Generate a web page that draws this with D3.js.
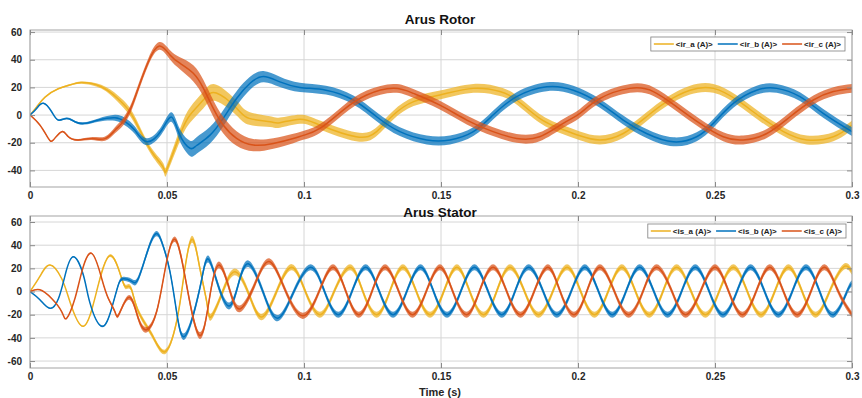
<!DOCTYPE html>
<html>
<head>
<meta charset="utf-8">
<script src="https://cdn.jsdelivr.net/npm/d3@7/dist/d3.min.js"></script>
<style>
body { margin: 0; background: #fff; }
svg text { font-family: "Liberation Sans", Arial, Helvetica, sans-serif; }
</style>
</head>
<body>
<svg id="chart" width="862" height="398"></svg>
<script>
// shared axis ticks
var timeTicks = [0, 0.05, 0.1, 0.15, 0.2, 0.25, 0.3];
var rotorTicks = [-40, -20, 0, 20, 40, 60];
var statorTicks = [-60, -40, -20, 0, 20, 40, 60];
var rotorLabels = ["<ir_a (A)>", "<ir_b (A)>", "<ir_c (A)>"];
var statorLabels = ["<is_a (A)>", "<is_b (A)>", "<is_c (A)>"];
var phaseColors = ["#EDB120", "#0072BD", "#D95319"];

// rotor currents, [time (s), current (A)]
var rotorA = [[0,0],[0.0025,6],[0.0055,13],[0.0103,19],[0.015,22],[0.0189,23.5],[0.026,20.5],[0.032,12],[0.036,3.6],[0.0395,-8.5],[0.0444,-26.5],[0.0487,-38],[0.050,-39],[0.0547,-14.5],[0.0584,0],[0.0633,11],[0.068,16],[0.0754,5],[0.080,-2.4],[0.0876,-4.8],[0.0912,-5.5],[0.0985,-3],[0.1058,-7.2],[0.119,-15.7],[0.1265,-12],[0.1326,0],[0.140,9.7],[0.1496,14.5],[0.1618,19.3],[0.1715,17],[0.1776,10.9],[0.186,-2.4],[0.1934,-9.7],[0.2007,-15],[0.208,-18],[0.2165,-13.3],[0.225,-1.2],[0.2324,9.7],[0.2409,18],[0.2494,19.3],[0.258,10.9],[0.2664,-1.2],[0.275,-12],[0.2835,-18],[0.2932,-15.7],[0.3,-7.2]];
var rotorB = [[0,0],[0.0025,5],[0.0049,8.5],[0.0079,2.4],[0.0103,-3.6],[0.0134,-2.4],[0.0164,-4.8],[0.020,-6],[0.025,-3.6],[0.031,-2],[0.0347,-4.8],[0.0383,-11],[0.0426,-19.3],[0.048,-11],[0.0517,-1.5],[0.0547,-14.5],[0.0584,-24],[0.0608,-22],[0.0657,-14.5],[0.0705,-2.4],[0.0754,12],[0.0803,23],[0.0852,27.8],[0.0912,24],[0.0985,20],[0.108,18],[0.118,10.9],[0.1265,-1.2],[0.135,-12],[0.1448,-18],[0.1533,-18],[0.1618,-12],[0.169,0],[0.1776,13.3],[0.1886,20.5],[0.1983,18],[0.208,8.5],[0.2165,-3.6],[0.225,-13.3],[0.2348,-19.3],[0.2433,-15.7],[0.2494,-6],[0.2567,8.5],[0.2652,18],[0.2725,19.3],[0.281,13.3],[0.2895,1.2],[0.3,-12]];
var rotorC = [[0,0],[0.0036,-7.2],[0.0067,-16.9],[0.0085,-18],[0.0116,-12],[0.014,-15.7],[0.0176,-18],[0.0225,-17],[0.0274,-17],[0.031,-11],[0.0335,-6],[0.0365,3.6],[0.0395,19.3],[0.0432,38.6],[0.0472,50],[0.0511,43.5],[0.0547,37.5],[0.0596,30.2],[0.0633,19.3],[0.0669,4.8],[0.0705,-7.2],[0.0754,-16.9],[0.0815,-21.7],[0.0888,-20.5],[0.0961,-16.9],[0.1,-14.5],[0.1058,-9.7],[0.1143,3.6],[0.1229,14.5],[0.1326,19.3],[0.1399,15.7],[0.1496,7.2],[0.1594,-3.6],[0.169,-12],[0.1776,-16.9],[0.186,-15.7],[0.1946,-6],[0.2007,1.2],[0.208,12],[0.219,19.3],[0.2275,17],[0.236,6],[0.2445,-6],[0.253,-15.7],[0.2603,-18],[0.2689,-13.3],[0.2774,-1.2],[0.2859,10.9],[0.2932,17],[0.3,19.3]];

// stator currents
var statorA = [[0,0],[0.0036,13],[0.0073,23],[0.0116,11],[0.0146,-9],[0.0195,-30],[0.0243,0],[0.0292,31],[0.0335,11],[0.0353,4],[0.037,2],[0.0395,-17],[0.0444,-37],[0.0493,-52],[0.0535,-26],[0.056,11],[0.059,45],[0.062,20],[0.0645,-9],[0.066,-22],[0.070,-2],[0.0748,17],[0.080,-3],[0.0846,-22],[0.090,0],[0.0955,21],[0.1005,0],[0.1058,-20],[0.111,0],[0.1168,21],[0.1215,0],[0.1265,-20],[0.1313,0],[0.1361,21],[0.141,0],[0.146,-20],[0.151,0],[0.1558,21],[0.1605,0],[0.1655,-20],[0.1703,0],[0.1752,21],[0.1805,0],[0.1856,-20],[0.1908,0],[0.196,21],[0.201,0],[0.206,-20],[0.211,0],[0.216,21],[0.221,0],[0.226,-20],[0.231,0],[0.236,21],[0.2413,0],[0.2465,-20],[0.2515,0],[0.2567,21],[0.2618,0],[0.2668,-20],[0.2718,0],[0.2768,21],[0.2818,0],[0.2868,-20],[0.2918,0],[0.2968,21],[0.3,17]];
var statorB = [[0,0],[0.0036,-7],[0.0073,-14.5],[0.0104,-6],[0.0128,14],[0.0158,30],[0.0195,14],[0.0219,-10],[0.0262,-30],[0.0298,-14.5],[0.0322,5.5],[0.034,11],[0.037,9],[0.0395,11],[0.0432,37],[0.0462,50],[0.0485,40],[0.0511,17],[0.0535,-17.5],[0.056,-39],[0.0596,-20],[0.0627,11],[0.0651,28],[0.0687,5],[0.0727,-12.5],[0.076,6],[0.0797,24],[0.085,0],[0.0903,-23],[0.0963,0],[0.1025,21],[0.1075,0],[0.1125,-20],[0.1175,0],[0.1225,21],[0.1275,0],[0.1325,-20],[0.1375,0],[0.1425,21],[0.1473,0],[0.1522,-20],[0.1572,0],[0.1622,21],[0.1672,0],[0.1722,-20],[0.177,0],[0.182,21],[0.1873,0],[0.1923,-20],[0.1975,0],[0.2025,21],[0.2075,0],[0.2125,-20],[0.2175,0],[0.2225,21],[0.2277,0],[0.2327,-20],[0.2378,0],[0.2428,21],[0.2479,0],[0.2529,-20],[0.258,0],[0.263,21],[0.2681,0],[0.2731,-20],[0.2782,0],[0.2832,21],[0.2882,0],[0.2932,-20],[0.2982,0],[0.3,7]];
var statorC = [[0,0],[0.0036,1.5],[0.0079,-6],[0.0116,-17.5],[0.0134,-23],[0.0164,-6],[0.0189,17],[0.0225,33],[0.0262,11],[0.0286,-6],[0.031,-17.5],[0.0325,-19.5],[0.0362,-5],[0.0395,-23],[0.0426,-33],[0.0462,-17.5],[0.0493,19],[0.053,45],[0.0572,5],[0.062,-38],[0.0657,-3],[0.069,23],[0.0728,2],[0.0766,-15],[0.082,6],[0.0873,26],[0.093,2],[0.0995,-21],[0.1055,0],[0.1106,21],[0.1153,0],[0.12,-20],[0.1248,0],[0.1296,21],[0.1346,0],[0.1396,-20],[0.1446,0],[0.1496,21],[0.1543,0],[0.1593,-20],[0.164,0],[0.169,21],[0.174,0],[0.179,-20],[0.184,0],[0.189,21],[0.1935,0],[0.1985,-20],[0.2032,0],[0.208,21],[0.2133,0],[0.2185,-20],[0.2237,0],[0.2287,21],[0.2343,0],[0.2393,-20],[0.2447,0],[0.25,21],[0.255,0],[0.26,-20],[0.265,0],[0.27,21],[0.275,0],[0.28,-20],[0.285,0],[0.29,21],[0.295,0],[0.3,-20]];

// half-width of the switching ripple band, [time (s), A]
var rotorRipple = [[0,0.2],[0.015,0.6],[0.025,1.2],[0.035,2.8],[0.045,2.5],[0.052,3.5],[0.06,6],[0.07,6],[0.085,4],[0.1,3.2],[0.3,3.2]];
var statorRipple = [[0,0.2],[0.025,0.6],[0.032,1.5],[0.04,2.5],[0.05,2],[0.058,3],[0.07,3],[0.1,2.6],[0.3,2.6]];

var svg = d3.select("#chart");

function drawPanel(cfg) {
    var x = d3.scaleLinear().domain([0, 0.3]).range([cfg.left, cfg.right]);
    var y = d3.scaleLinear().domain(cfg.yDomain).range([cfg.bottom, cfg.top]);
    var w = cfg.right - cfg.left, h = cfg.bottom - cfg.top;
    var g = svg.append("g");

    g.append("rect")
        .attr("x", cfg.left).attr("y", cfg.top)
        .attr("width", w).attr("height", h)
        .attr("fill", "#fff");

    // grid
    g.append("g").selectAll("line").data(timeTicks).enter().append("line")
        .attr("x1", function(d) { return x(d); }).attr("x2", function(d) { return x(d); })
        .attr("y1", cfg.top).attr("y2", cfg.bottom)
        .attr("stroke", "#d6d6d6").attr("stroke-width", 1);
    g.append("g").selectAll("line").data(cfg.yTicks).enter().append("line")
        .attr("x1", cfg.left).attr("x2", cfg.right)
        .attr("y1", function(d) { return y(d); }).attr("y2", function(d) { return y(d); })
        .attr("stroke", "#d6d6d6").attr("stroke-width", 1);

    var clipId = "clip-" + cfg.id;
    g.append("clipPath").attr("id", clipId).append("rect")
        .attr("x", cfg.left).attr("y", cfg.top).attr("width", w).attr("height", h);

    var ripple = d3.scaleLinear()
        .domain(cfg.ripple.map(function(d) { return d[0]; }))
        .range(cfg.ripple.map(function(d) { return d[1]; }))
        .clamp(true);

    var band = d3.area()
        .x(function(d) { return x(d[0]); })
        .y0(function(d) { return y(d[1] - ripple(d[0])); })
        .y1(function(d) { return y(d[1] + ripple(d[0])); })
        .curve(d3.curveNatural);
    var line = d3.line()
        .x(function(d) { return x(d[0]); })
        .y(function(d) { return y(d[1]); })
        .curve(d3.curveNatural);

    var plot = g.append("g").attr("clip-path", "url(#" + clipId + ")");
    cfg.series.forEach(function(s, i) {
        plot.append("path").attr("d", band(s))
            .attr("fill", phaseColors[i]).attr("fill-opacity", 0.72);
        plot.append("path").attr("d", line(s))
            .attr("fill", "none").attr("stroke", phaseColors[i]).attr("stroke-width", 1.5);
    });

    // box + inward ticks on all four sides
    g.append("rect")
        .attr("x", cfg.left).attr("y", cfg.top)
        .attr("width", w).attr("height", h)
        .attr("fill", "none").attr("stroke", "#a3a3a3");

    var axB = g.append("g").attr("transform", "translate(0," + cfg.bottom + ")")
        .call(d3.axisBottom(x).tickValues(timeTicks).tickSize(-5).tickPadding(5).tickFormat(String));
    var axT = g.append("g").attr("transform", "translate(0," + cfg.top + ")")
        .call(d3.axisTop(x).tickValues(timeTicks).tickSize(-5).tickFormat(""));
    var axL = g.append("g").attr("transform", "translate(" + cfg.left + ",0)")
        .call(d3.axisLeft(y).tickValues(cfg.yTicks).tickSize(-5).tickPadding(8).tickFormat(String));
    var axR = g.append("g").attr("transform", "translate(" + cfg.right + ",0)")
        .call(d3.axisRight(y).tickValues(cfg.yTicks).tickSize(-5).tickFormat(""));
    [axB, axT, axL, axR].forEach(function(ax) {
        ax.select(".domain").remove();
        ax.selectAll(".tick line").attr("stroke", "#8a8a8a");
        ax.selectAll(".tick text").attr("fill", "#262626")
            .style("font-size", "10px").style("font-weight", "bold");
    });

    g.append("text")
        .attr("x", (cfg.left + cfg.right) / 2 - 1).attr("y", cfg.titleY)
        .attr("text-anchor", "middle")
        .style("font-size", "13.5px").style("font-weight", "bold")
        .attr("fill", "#111")
        .text(cfg.title);

    // legend, packed from the right edge of the axes
    var lg = g.append("g");
    var boxR = cfg.right - cfg.legendInset[0], boxT = cfg.top + cfg.legendInset[1], boxH = 14;
    var items = lg.append("g");
    var cursor = 0;
    cfg.labels.forEach(function(lbl, i) {
        var it = items.append("g").attr("transform", "translate(" + cursor + ",0)");
        it.append("line").attr("x1", 3).attr("x2", 23)
            .attr("y1", boxH / 2).attr("y2", boxH / 2)
            .attr("stroke", phaseColors[i]).attr("stroke-width", 1.5);
        var t = it.append("text").attr("x", 25).attr("y", boxH / 2 + 2.8)
            .style("font-size", "8px").style("font-weight", "bold")
            .attr("fill", "#222").text(lbl);
        cursor += 25 + t.node().getComputedTextLength() + 2;
    });
    var boxW = cursor + 2;
    lg.insert("rect", ":first-child")
        .attr("x", 0).attr("y", 0).attr("width", boxW).attr("height", boxH)
        .attr("fill", "#fff").attr("stroke", "#7f7f7f").attr("stroke-width", 0.8);
    lg.attr("transform", "translate(" + (boxR - boxW) + "," + boxT + ")");
}

drawPanel({
    id: "rotor", title: "Arus Rotor", titleY: 24,
    left: 30, right: 852, top: 30, bottom: 187,
    yDomain: [-52, 61.5], yTicks: rotorTicks,
    series: [rotorA, rotorB, rotorC], ripple: rotorRipple,
    labels: rotorLabels, legendInset: [7, 7]
});
drawPanel({
    id: "stator", title: "Arus Stator", titleY: 216.5,
    left: 30, right: 852, top: 216, bottom: 368,
    yDomain: [-66, 65.2], yTicks: statorTicks,
    series: [statorA, statorB, statorC], ripple: statorRipple,
    labels: statorLabels, legendInset: [6, 8]
});

svg.append("text")
    .attr("x", 440).attr("y", 396)
    .attr("text-anchor", "middle")
    .style("font-size", "11px").style("font-weight", "bold")
    .attr("fill", "#262626")
    .text("Time (s)");
</script>
</body>
</html>
